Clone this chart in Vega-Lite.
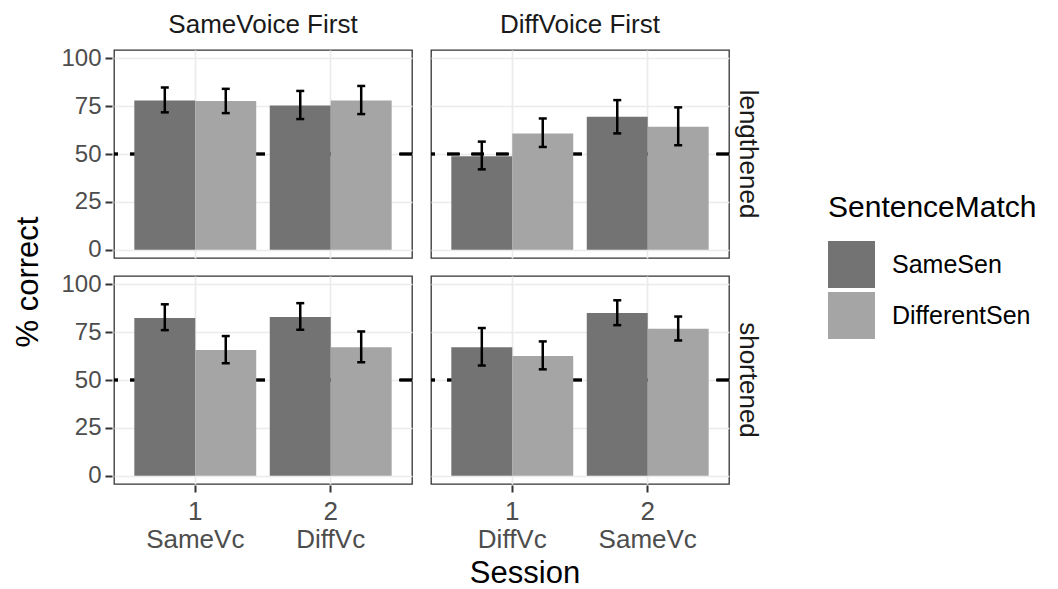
{
  "$schema": "https://vega.github.io/schema/vega-lite/v6.json",
  "padding": {"left": 12, "top": 12, "right": 5, "bottom": 0},
  "background": "white",
  "data": {"values": [
    {"Order": "SameVoice First", "Length": "lengthened", "Session": "1", "SentenceMatch": "SameSen", "pct": 78.0, "lo": 71.8, "hi": 84.8},
    {"Order": "SameVoice First", "Length": "lengthened", "Session": "1", "SentenceMatch": "DifferentSen", "pct": 77.8, "lo": 71.4, "hi": 84.1},
    {"Order": "SameVoice First", "Length": "lengthened", "Session": "2", "SentenceMatch": "SameSen", "pct": 75.4, "lo": 68.3, "hi": 83.0},
    {"Order": "SameVoice First", "Length": "lengthened", "Session": "2", "SentenceMatch": "DifferentSen", "pct": 78.0, "lo": 70.9, "hi": 85.6},
    {"Order": "DiffVoice First", "Length": "lengthened", "Session": "1", "SentenceMatch": "SameSen", "pct": 48.9, "lo": 42.0, "hi": 56.5},
    {"Order": "DiffVoice First", "Length": "lengthened", "Session": "1", "SentenceMatch": "DifferentSen", "pct": 60.8, "lo": 53.7, "hi": 68.6},
    {"Order": "DiffVoice First", "Length": "lengthened", "Session": "2", "SentenceMatch": "SameSen", "pct": 69.5, "lo": 60.8, "hi": 78.2},
    {"Order": "DiffVoice First", "Length": "lengthened", "Session": "2", "SentenceMatch": "DifferentSen", "pct": 64.3, "lo": 54.6, "hi": 74.4},
    {"Order": "SameVoice First", "Length": "shortened", "Session": "1", "SentenceMatch": "SameSen", "pct": 82.5, "lo": 76.1, "hi": 89.6},
    {"Order": "SameVoice First", "Length": "shortened", "Session": "1", "SentenceMatch": "DifferentSen", "pct": 65.7, "lo": 58.8, "hi": 73.0},
    {"Order": "SameVoice First", "Length": "shortened", "Session": "2", "SentenceMatch": "SameSen", "pct": 82.9, "lo": 76.3, "hi": 90.2},
    {"Order": "SameVoice First", "Length": "shortened", "Session": "2", "SentenceMatch": "DifferentSen", "pct": 67.1, "lo": 59.3, "hi": 75.4},
    {"Order": "DiffVoice First", "Length": "shortened", "Session": "1", "SentenceMatch": "SameSen", "pct": 67.1, "lo": 57.6, "hi": 77.2},
    {"Order": "DiffVoice First", "Length": "shortened", "Session": "1", "SentenceMatch": "DifferentSen", "pct": 62.6, "lo": 55.6, "hi": 70.2},
    {"Order": "DiffVoice First", "Length": "shortened", "Session": "2", "SentenceMatch": "SameSen", "pct": 85.1, "lo": 78.7, "hi": 91.7},
    {"Order": "DiffVoice First", "Length": "shortened", "Session": "2", "SentenceMatch": "DifferentSen", "pct": 76.8, "lo": 70.7, "hi": 83.2}
  ]},
  "title": {"text": "Session", "orient": "bottom", "anchor": "middle", "fontSize": 31, "fontWeight": "normal", "color": "#000000", "offset": 7},
  "spacing": 15,
  "resolve": {"scale": {"color": "shared"}, "legend": {"color": "shared"}},
  "hconcat": [
    {
      "title": {"text": "% correct", "orient": "left", "anchor": "middle", "fontSize": 31, "fontWeight": "normal", "color": "#000000", "offset": 16},
      "transform": [{"filter": "datum.Order == 'SameVoice First'"}],
      "facet": {
        "row": {"field": "Length", "type": "nominal", "sort": ["lengthened", "shortened"], "header": {"labels": false, "title": null}},
        "column": {"field": "Order", "type": "nominal", "header": {"title": null, "labelFontSize": 26, "labelColor": "#1a1a1a", "labelPadding": 11}}
      },
      "spacing": {"row": 16},
      "spec": {
        "width": 298,
        "height": 208,
        "layer": [
          {
            "mark": {"type": "rule", "strokeDash": [12.5, 12], "strokeWidth": 2.4, "color": "#000000"},
            "encoding": {"y": {"datum": 50, "type": "quantitative", "scale": {"domain": [-4.35, 104.4], "nice": false, "zero": false},
              "axis": {"title": null, "grid": true, "values": [0, 12.5, 25, 37.5, 50, 62.5, 75, 87.5, 100], "labelOverlap": false,
                "gridWidth": {"condition": {"test": "datum.value % 25 == 0", "value": 1.7}, "value": 0.9},
                "tickOpacity": {"condition": {"test": "datum.value % 25 == 0", "value": 1}, "value": 0},
                "labelExpr": "datum.value % 25 == 0 ? datum.label : ''"}}}
          },
          {
            "mark": {"type": "bar"},
            "encoding": {
              "x": {"field": "Session", "type": "nominal", "title": null, "scale": {"paddingInner": 0.1, "paddingOuter": 0.15},
                "axis": {"labelAngle": 0, "bandPosition": 0.5, "grid": true, "gridWidth": 1.7, "labelLineHeight": 28, "labelPadding": 6, "labelFontSize": 26,
                  "labelExpr": "datum.value == '1' ? ['1', 'SameVc'] : ['2', 'DiffVc']"}},
              "xOffset": {"field": "SentenceMatch", "type": "nominal", "sort": ["SameSen", "DifferentSen"], "scale": {"paddingInner": 0, "paddingOuter": 0}},
              "y": {"field": "pct", "type": "quantitative", "title": null, "scale": {"domain": [-4.35, 104.4], "nice": false, "zero": false}},
              "color": {"field": "SentenceMatch", "type": "nominal", "title": "SentenceMatch", "sort": ["SameSen", "DifferentSen"],
                "scale": {"domain": ["SameSen", "DifferentSen"], "range": ["#737373", "#a5a5a5"]}}
            }
          },
          {
            "mark": {"type": "rule", "strokeWidth": 2.5, "color": "#000000"},
            "encoding": {
              "x": {"field": "Session", "type": "nominal", "title": null},
              "xOffset": {"field": "SentenceMatch", "type": "nominal", "sort": ["SameSen", "DifferentSen"]},
              "y": {"field": "lo", "type": "quantitative", "title": null, "scale": {"domain": [-4.35, 104.4], "nice": false, "zero": false}},
              "y2": {"field": "hi"}
            }
          },
          {
            "mark": {"type": "tick", "size": 8, "thickness": 2.5, "color": "#000000", "opacity": 1},
            "encoding": {
              "x": {"field": "Session", "type": "nominal", "title": null},
              "xOffset": {"field": "SentenceMatch", "type": "nominal", "sort": ["SameSen", "DifferentSen"]},
              "y": {"field": "lo", "type": "quantitative", "title": null, "scale": {"domain": [-4.35, 104.4], "nice": false, "zero": false}}
            }
          },
          {
            "mark": {"type": "tick", "size": 8, "thickness": 2.5, "color": "#000000", "opacity": 1},
            "encoding": {
              "x": {"field": "Session", "type": "nominal", "title": null},
              "xOffset": {"field": "SentenceMatch", "type": "nominal", "sort": ["SameSen", "DifferentSen"]},
              "y": {"field": "hi", "type": "quantitative", "title": null, "scale": {"domain": [-4.35, 104.4], "nice": false, "zero": false}}
            }
          }
        ]
      }
    },
    {
      "transform": [{"filter": "datum.Order == 'DiffVoice First'"}],
      "facet": {
        "row": {"field": "Length", "type": "nominal", "sort": ["lengthened", "shortened"], "header": {"title": null, "labelOrient": "right", "labelAngle": 90, "labelFontSize": 26, "labelColor": "#1a1a1a", "labelPadding": 4}},
        "column": {"field": "Order", "type": "nominal", "header": {"title": null, "labelFontSize": 26, "labelColor": "#1a1a1a", "labelPadding": 11}}
      },
      "spacing": {"row": 16},
      "spec": {
        "width": 298,
        "height": 208,
        "layer": [
          {
            "mark": {"type": "rule", "strokeDash": [12.5, 12], "strokeWidth": 2.4, "color": "#000000"},
            "encoding": {"y": {"datum": 50, "type": "quantitative", "scale": {"domain": [-4.35, 104.4], "nice": false, "zero": false},
              "axis": {"title": null, "grid": true, "values": [0, 12.5, 25, 37.5, 50, 62.5, 75, 87.5, 100], "labels": false, "ticks": false,
                "gridWidth": {"condition": {"test": "datum.value % 25 == 0", "value": 1.7}, "value": 0.9}}}}
          },
          {
            "mark": {"type": "bar"},
            "encoding": {
              "x": {"field": "Session", "type": "nominal", "title": null, "scale": {"paddingInner": 0.1, "paddingOuter": 0.15},
                "axis": {"labelAngle": 0, "bandPosition": 0.5, "grid": true, "gridWidth": 1.7, "labelLineHeight": 28, "labelPadding": 6, "labelFontSize": 26,
                  "labelExpr": "datum.value == '1' ? ['1', 'DiffVc'] : ['2', 'SameVc']"}},
              "xOffset": {"field": "SentenceMatch", "type": "nominal", "sort": ["SameSen", "DifferentSen"], "scale": {"paddingInner": 0, "paddingOuter": 0}},
              "y": {"field": "pct", "type": "quantitative", "title": null, "scale": {"domain": [-4.35, 104.4], "nice": false, "zero": false}},
              "color": {"field": "SentenceMatch", "type": "nominal", "title": "SentenceMatch", "sort": ["SameSen", "DifferentSen"],
                "scale": {"domain": ["SameSen", "DifferentSen"], "range": ["#737373", "#a5a5a5"]}}
            }
          },
          {
            "mark": {"type": "rule", "strokeWidth": 2.5, "color": "#000000"},
            "encoding": {
              "x": {"field": "Session", "type": "nominal", "title": null},
              "xOffset": {"field": "SentenceMatch", "type": "nominal", "sort": ["SameSen", "DifferentSen"]},
              "y": {"field": "lo", "type": "quantitative", "title": null, "scale": {"domain": [-4.35, 104.4], "nice": false, "zero": false}},
              "y2": {"field": "hi"}
            }
          },
          {
            "mark": {"type": "tick", "size": 8, "thickness": 2.5, "color": "#000000", "opacity": 1},
            "encoding": {
              "x": {"field": "Session", "type": "nominal", "title": null},
              "xOffset": {"field": "SentenceMatch", "type": "nominal", "sort": ["SameSen", "DifferentSen"]},
              "y": {"field": "lo", "type": "quantitative", "title": null, "scale": {"domain": [-4.35, 104.4], "nice": false, "zero": false}}
            }
          },
          {
            "mark": {"type": "tick", "size": 8, "thickness": 2.5, "color": "#000000", "opacity": 1},
            "encoding": {
              "x": {"field": "Session", "type": "nominal", "title": null},
              "xOffset": {"field": "SentenceMatch", "type": "nominal", "sort": ["SameSen", "DifferentSen"]},
              "y": {"field": "hi", "type": "quantitative", "title": null, "scale": {"domain": [-4.35, 104.4], "nice": false, "zero": false}}
            }
          }
        ]
      }
    }
  ],
  "config": {
    "font": "Liberation Sans",
    "view": {"stroke": "#333333", "strokeWidth": 1.3},
    "axis": {"labelFont": "Liberation Sans", "labelFontSize": 24, "labelColor": "#4d4d4d", "tickColor": "#333333", "tickWidth": 2, "tickSize": 7, "domain": false, "gridColor": "#ebebeb"},
    "axisY": {"labelPadding": 4},
    "header": {"labelFont": "Liberation Sans", "titleFont": "Liberation Sans"},
    "legend": {"orient": "none", "legendX": 714, "legendY": 143, "padding": 0, "titleFontSize": 30, "titleFontWeight": "normal", "titleColor": "#000000", "titleLimit": 500, "labelFontSize": 25, "labelColor": "#000000", "labelLimit": 400,
      "symbolType": "square", "symbolSize": 2209, "symbolStrokeWidth": 0, "rowPadding": 4, "labelOffset": 17, "titlePadding": 18},
    "title": {"font": "Liberation Sans"}
  }
}
